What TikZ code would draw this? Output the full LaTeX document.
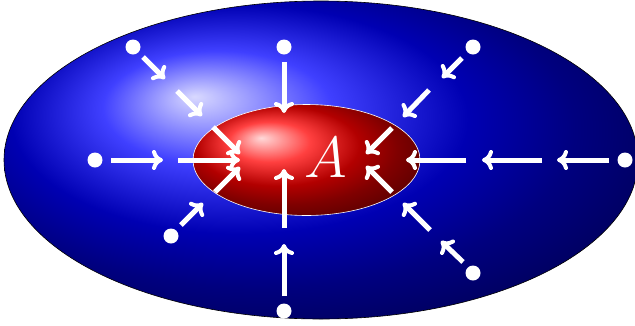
\documentclass[tikz,border=0pt]{standalone}
\usetikzlibrary{arrows.meta}
\begin{document}
\begin{tikzpicture}[x=1pt,y=-1pt,
  seg/.style={white,line width=5pt,-{Computer Modern Rightarrow[line width=4pt,length=11pt,width=20pt]}},
  src/.style={circle,fill=white,inner sep=0pt,minimum size=15pt},
  outerblob/.style={ball color=blue,draw=black,line width=0.6pt},
  innerblob/.style={ball color=red,draw=white,line width=0.6pt}]
\useasboundingbox (0,0) rectangle (635,325);
\clip (0,0) rectangle (635,325);
\path[outerblob] (321,160) ellipse [x radius=317, y radius=159];
\path[innerblob] (306.5,160) ellipse [x radius=113.5, y radius=55.5];
\node[white,inner sep=0pt] (A) at (326,158) {\scalebox{2.33}{\Huge$A$}};
% source dots
\node[src] (d1) at (133,47) {};
\node[src] (d2) at (284,47) {};
\node[src] (d3) at (95,160) {};
\node[src] (d4) at (171,236) {};
\node[src] (d5) at (284,311) {};
\node[src] (d6) at (473,47) {};
\node[src] (d7) at (625,160) {};
\node[src] (d8) at (473,273) {};
% arrow 1 (top left)
\coordinate (a1s1) at (143,57); \coordinate (a1e1) at (165,79);
\coordinate (a1s2) at (177,91); \coordinate (a1e2) at (202,116);
\coordinate (a1s3) at (213,127); \coordinate (a1e3) at (240,154);
\draw[seg] (a1s1) -- (a1e1); \draw[seg] (a1s2) -- (a1e2); \draw[seg] (a1s3) -- (a1e3);
% arrow 2 (top)
\coordinate (a2s1) at (284,62); \coordinate (a2e1) at (284,113);
\draw[seg] (a2s1) -- (a2e1);
% arrow 3 (left)
\coordinate (a3s1) at (111,160); \coordinate (a3e1) at (163,160);
\coordinate (a3s2) at (178,160); \coordinate (a3e2) at (240,160);
\draw[seg] (a3s1) -- (a3e1); \draw[seg] (a3s2) -- (a3e2);
% arrow 4 (lower left)
\coordinate (a4s1) at (181,225); \coordinate (a4e1) at (203,203);
\coordinate (a4s2) at (215,192); \coordinate (a4e2) at (240,167);
\draw[seg] (a4s1) -- (a4e1); \draw[seg] (a4s2) -- (a4e2);
% arrow 5 (bottom)
\coordinate (a5s1) at (284,296); \coordinate (a5e1) at (284,244);
\coordinate (a5s2) at (284,228); \coordinate (a5e2) at (284,169);
\draw[seg] (a5s1) -- (a5e1); \draw[seg] (a5s2) -- (a5e2);
% arrow 6 (upper right)
\coordinate (a6s1) at (462,58); \coordinate (a6e1) at (442,78);
\coordinate (a6s2) at (429,90); \coordinate (a6e2) at (403,117);
\coordinate (a6s3) at (392,128); \coordinate (a6e3) at (366,154);
\draw[seg] (a6s1) -- (a6e1); \draw[seg] (a6s2) -- (a6e2); \draw[seg] (a6s3) -- (a6e3);
% arrow 7 (right)
\coordinate (a7s1) at (609,160); \coordinate (a7e1) at (557,160);
\coordinate (a7s2) at (542,160); \coordinate (a7e2) at (482,160);
\coordinate (a7s3) at (466,160); \coordinate (a7e3) at (406,160);
\draw[seg] (a7s1) -- (a7e1); \draw[seg] (a7s2) -- (a7e2); \draw[seg] (a7s3) -- (a7e3);
% arrow 8 (lower right)
\coordinate (a8s1) at (463,262); \coordinate (a8e1) at (441,241);
\coordinate (a8s2) at (430,230); \coordinate (a8e2) at (403,203);
\coordinate (a8s3) at (392,192); \coordinate (a8e3) at (366,166);
\draw[seg] (a8s1) -- (a8e1); \draw[seg] (a8s2) -- (a8e2); \draw[seg] (a8s3) -- (a8e3);
\end{tikzpicture}
\end{document}
